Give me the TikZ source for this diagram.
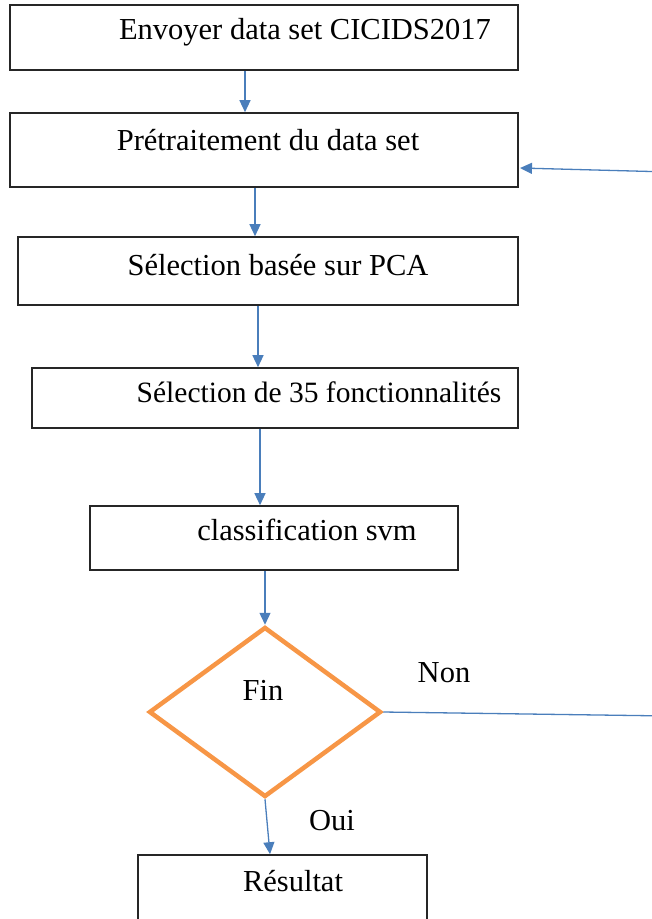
\documentclass[tikz,border=0pt]{standalone}
\usepackage{fontspec}
\setmainfont{Liberation Serif}
\usetikzlibrary{shapes.geometric}
\usetikzlibrary{arrows.meta}

\definecolor{flowblue}{HTML}{4A7EBB}
\definecolor{finorange}{HTML}{F79646}

\tikzset{
    box/.style = {rectangle, draw=black!85, line width=1.6pt, inner sep=0pt},
    txt/.style = {anchor=base, inner sep=0pt, font=\fontsize{30.5}{36}\selectfont},
    flow/.style = {draw=flowblue, line width=1.3pt, -{Triangle[length=12pt,width=11pt]}},
    loop/.style = {draw=flowblue, line width=1.3pt},
}

\begin{document}
\begin{tikzpicture}[x=1pt,y=-1pt]
        \clip (0,0) rectangle (652,919);
        %    \draw [help lines] (0,0) grid (652,919);

        % boxes
        \path node (env) [box, minimum width=508pt, minimum height=65pt] at (264,37.5) {};
        \path node (pre) [box, minimum width=508pt, minimum height=74pt] at (264,150) {};
        \path node (pca) [box, minimum width=500pt, minimum height=68pt] at (268,271) {};
        \path node (sel) [box, minimum width=486pt, minimum height=60pt] at (275,398) {};
        \path node (svm) [box, minimum width=368pt, minimum height=64pt] at (274,538) {};
        \path node (fin) [diamond, draw=finorange, line width=4.5pt, inner sep=0pt,
                          minimum width=232pt, minimum height=170pt] at (265,712) {};
        \path node (res) [box, minimum width=289pt, minimum height=90pt] at (282.5,900) {};

        % texts
        \path node (tenv) [txt] at (305,39) {Envoyer data set CICIDS2017};
        \path node (tpre) [txt] at (268,150) {Prétraitement du data set};
        \path node (tpca) [txt] at (278,275) {Sélection basée sur PCA};
        \path node (tsel) [txt, font=\fontsize{29.5}{35}\selectfont] at (319,402) {Sélection de 35 fonctionnalités};
        \path node (tsvm) [txt] at (307,540) {classification svm};
        \path node (tfin) [txt] at (263,700) {Fin};
        \path node (tnon) [txt] at (444,682) {Non};
        \path node (toui) [txt] at (332,830) {Oui};
        \path node (tres) [txt] at (293,891) {Résultat};

        % loop back, it leaves the page on the right
        \coordinate (nonout) at (670,716);
        \coordinate (backin) at (670,172);
        \coordinate (prein) at (520,168);

        \draw[flow] ([xshift=-19pt]env.south) -- ([xshift=-19pt]env.south |- pre.north);
        \draw[flow] ([xshift=-9pt]pre.south) -- ([xshift=-9pt]pre.south |- pca.north);
        \draw[flow] ([xshift=-10pt]pca.south) -- ([xshift=-10pt]pca.south |- sel.north);
        \draw[flow] ([xshift=-15pt]sel.south) -- ([xshift=-15pt]sel.south |- svm.north);
        \draw[flow] ([xshift=-9pt]svm.south) -- (fin.north);
        \draw[flow] (fin.south) -- ([xshift=-12.5pt]res.north);

        \draw[loop] (fin.east) -- (nonout) -- (backin);
        \draw[flow] (backin) -- (prein);
\end{tikzpicture}
\end{document}
